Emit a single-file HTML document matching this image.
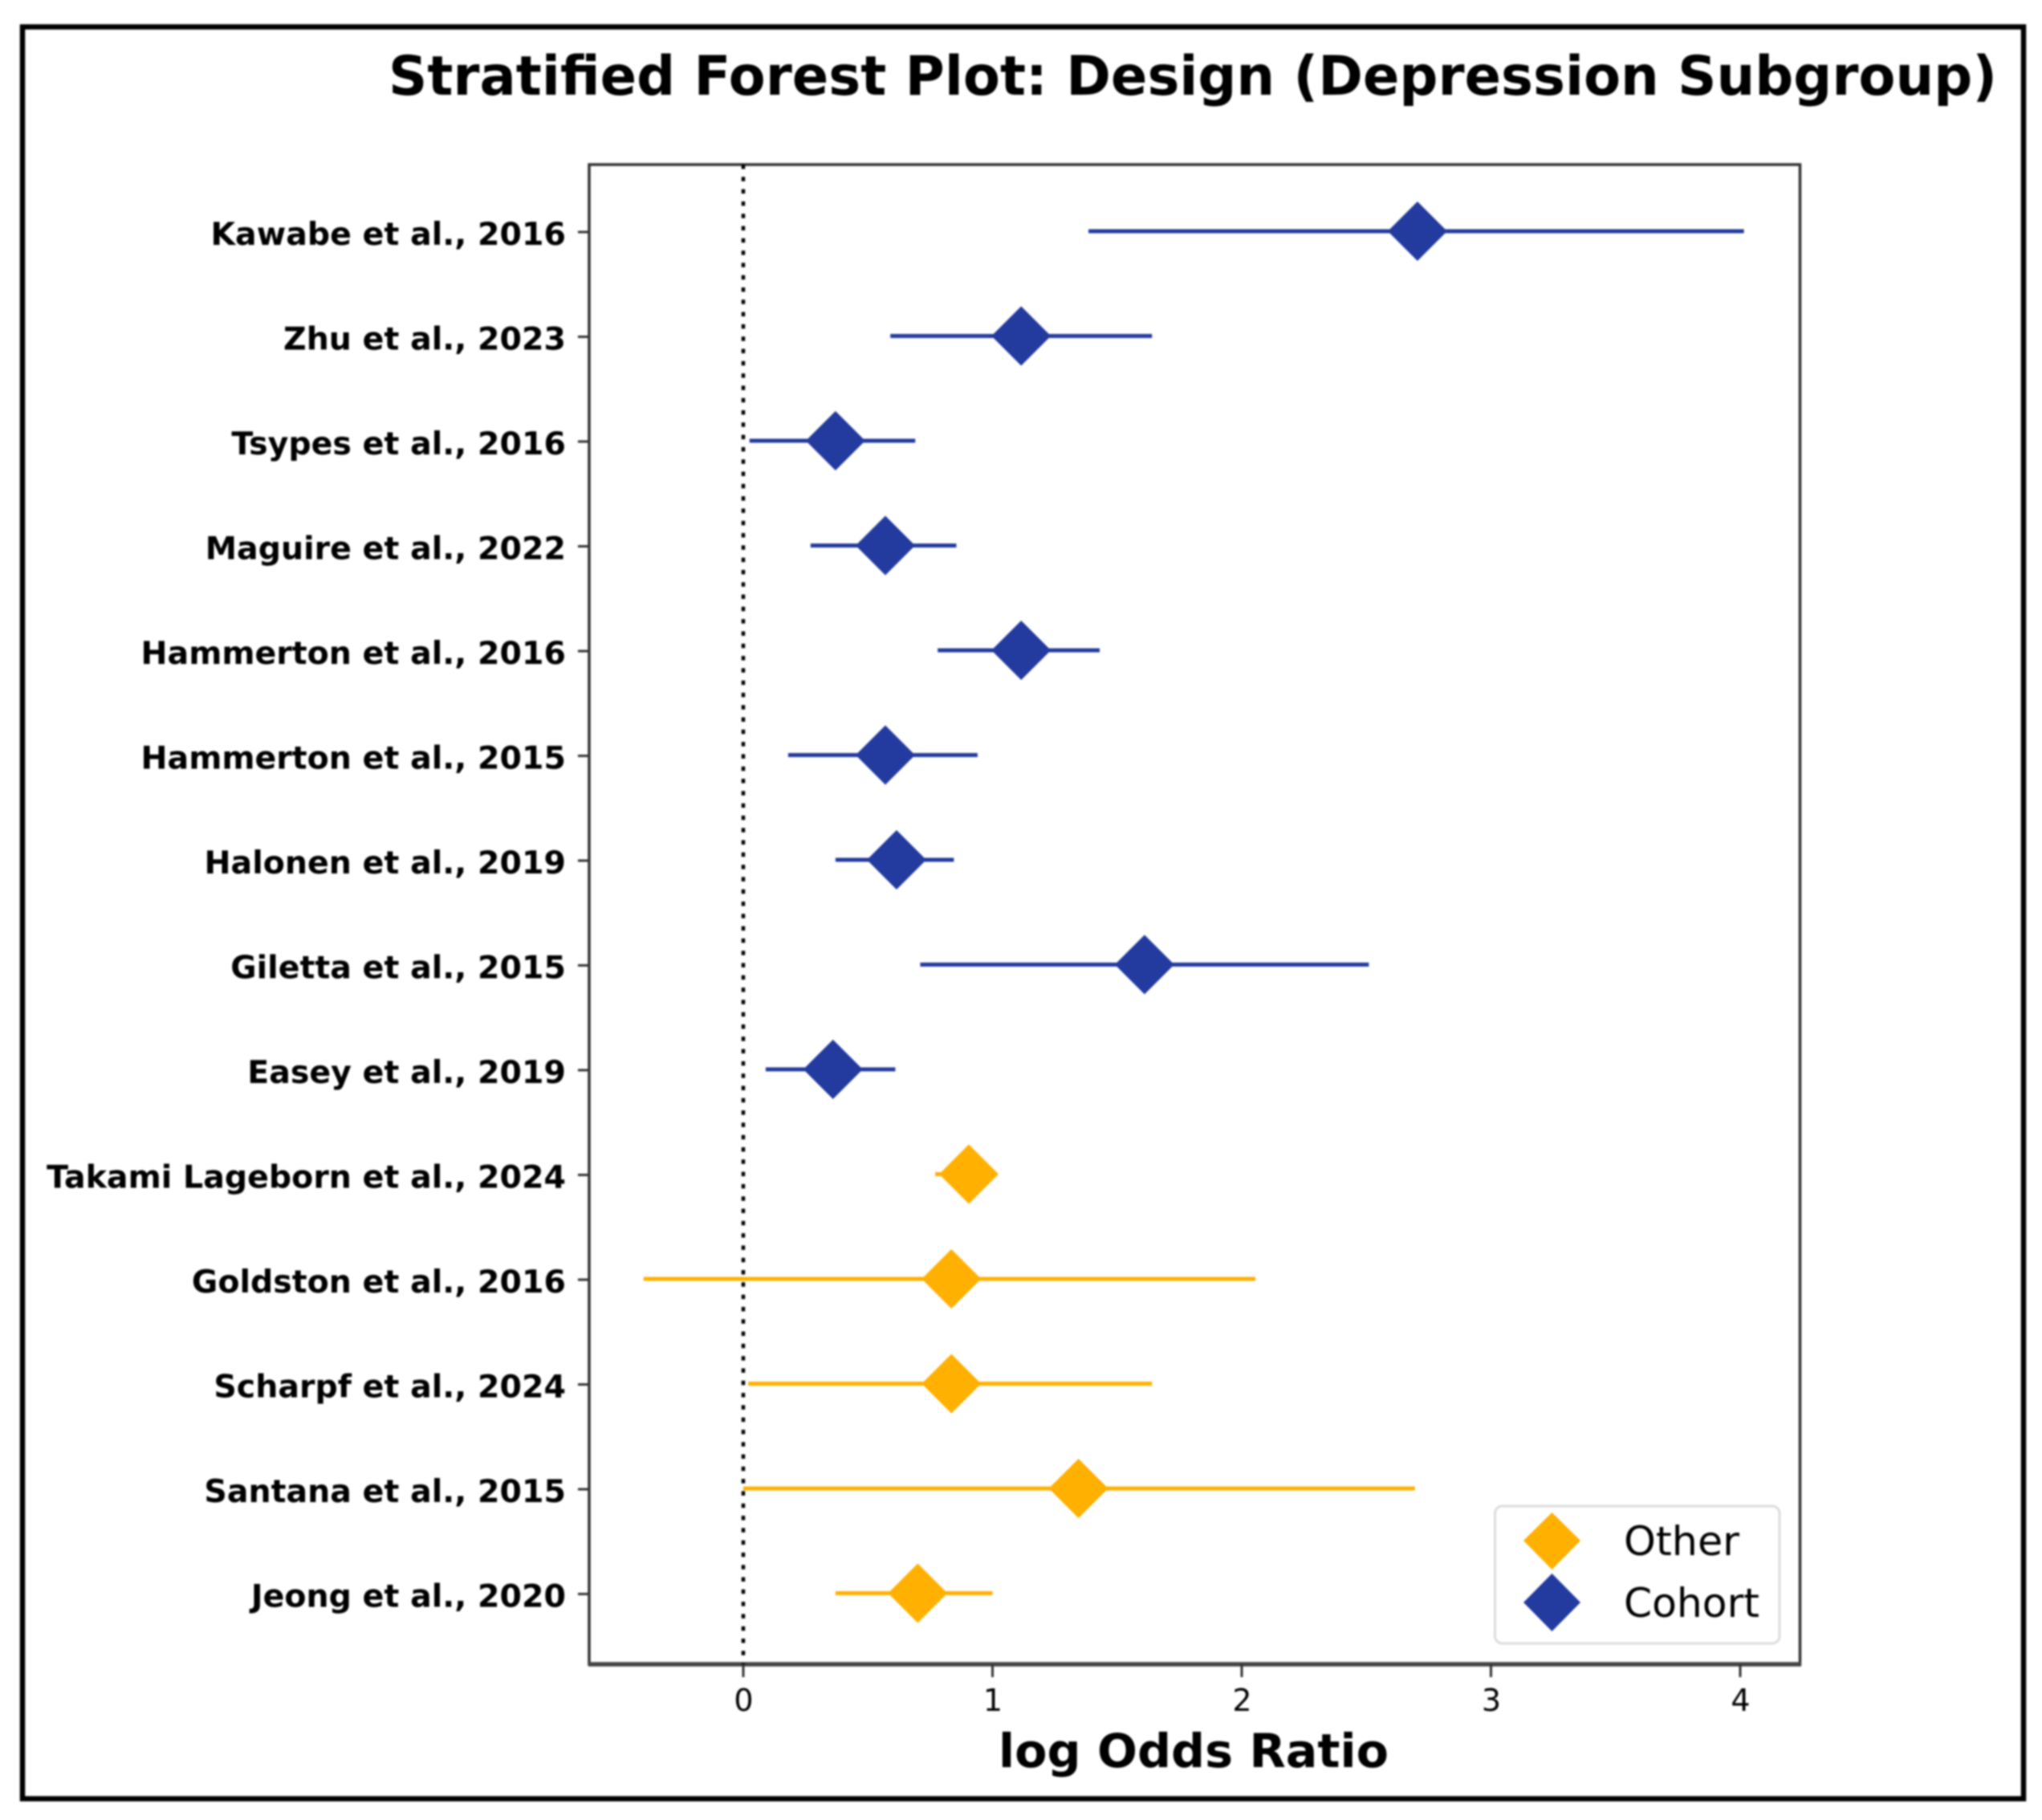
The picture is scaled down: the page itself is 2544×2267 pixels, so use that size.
<!DOCTYPE html>
<html lang="en">
<head>
<meta charset="utf-8">
<title>Stratified Forest Plot: Design (Depression Subgroup)</title>
<style>
html,body{margin:0;padding:0;background:#fff;width:2544px;height:2267px;overflow:hidden}
svg{display:block;filter:blur(1.1px)}
text{font-family:"DejaVu Sans","Liberation Sans",sans-serif;fill:#000}
</style>
</head>
<body>
<svg id="chart" xmlns="http://www.w3.org/2000/svg" width="2544" height="2267" viewBox="0 0 2544 2267">
  <rect x="0" y="0" width="2544" height="2267" fill="#fff"/>
  <rect x="28" y="33.500" width="2493" height="2207" fill="none" stroke="#000" stroke-width="6.500"/>
  <text x="484" y="118" font-size="68" font-weight="700" textLength="2004" lengthAdjust="spacingAndGlyphs">Stratified Forest Plot: Design (Depression Subgroup)</text>
  <rect x="734" y="205" width="1508.500" height="1868" fill="#fff" stroke="#333" stroke-width="3.500"/>
  <line x1="733" x2="2244" y1="2073" y2="2073" stroke="#444" stroke-width="5.500"/>
  <g id="x-ticks"></g>
  <g id="y-ticks"></g>
  <line id="null-line" y1="205" y2="2073" stroke="#000" stroke-width="4.500" stroke-dasharray="5.500 9.800"/>
  <g id="series"></g>
  <text x="1244" y="2201" font-size="58" font-weight="700" textLength="486" lengthAdjust="spacingAndGlyphs">log Odds Ratio</text>
  <g>
    <rect x="1862.500" y="1876" width="354.500" height="171" rx="9" fill="#fff" stroke="#dcdcdc" stroke-width="3"/>
    <polygon points="1933.500,1884 1969,1919 1933.500,1955 1898,1919" fill="#FFB000"/>
    <text x="2023" y="1937" font-size="50" fill="#111" textLength="144" lengthAdjust="spacingAndGlyphs">Other</text>
    <polygon points="1933.500,1960 1969,1996 1933.500,2032 1898,1996" fill="#233A9E"/>
    <text x="2023" y="2014" font-size="50" fill="#111" textLength="169" lengthAdjust="spacingAndGlyphs">Cohort</text>
  </g>
</svg>
<script>
const studyLabels = ["Kawabe et al., 2016","Zhu et al., 2023","Tsypes et al., 2016","Maguire et al., 2022","Hammerton et al., 2016","Hammerton et al., 2015","Halonen et al., 2019","Giletta et al., 2015","Easey et al., 2019","Takami Lageborn et al., 2024","Goldston et al., 2016","Scharpf et al., 2024","Santana et al., 2015","Jeong et al., 2020"];
const logOdds = [2.705,1.115,0.37,0.57,1.115,0.57,0.615,1.61,0.36,0.905,0.835,0.835,1.345,0.70];
const ciLower = [1.385,0.59,0.025,0.27,0.78,0.18,0.37,0.71,0.09,0.77,-0.40,0.02,0.00,0.37];
const ciUpper = [4.015,1.64,0.69,0.855,1.43,0.94,0.845,2.51,0.61,1.01,2.055,1.64,2.695,1.00];
const designGroups = ["Cohort","Cohort","Cohort","Cohort","Cohort","Cohort","Cohort","Cohort","Cohort","Other","Other","Other","Other","Other"];
const xTickValues = [0,1,2,3,4];

const NS = 'http://www.w3.org/2000/svg';
const groupColors = {Cohort:'#233A9E', Other:'#FFB000'};
function xScale(v){ return 926 + v * 310.5; }
function yScale(i){ return 288 + i * 130.5; }
function slug(s){ return s.toLowerCase().replace(/[^a-z0-9]+/g,'-').replace(/-$/,''); }
function make(tag, attrs, parent){
  const el = document.createElementNS(NS, tag);
  for (const k in attrs) el.setAttribute(k, attrs[k]);
  parent.appendChild(el);
  return el;
}

const nullLine = document.getElementById('null-line');
nullLine.setAttribute('x1', xScale(0));
nullLine.setAttribute('x2', xScale(0));

const xTicks = document.getElementById('x-ticks');
xTickValues.forEach(function(v){
  const tick = make('line', {x1:xScale(v), x2:xScale(v), y1:2073, y2:2089, stroke:'#333', 'stroke-width':3}, xTicks);
  
  
  const label = make('text', {x:xScale(v)+0.5, y:2131, 'font-size':38, 'text-anchor':'middle', fill:'#222'}, xTicks);
  
  
  label.textContent = String(v);
});

const yTicks = document.getElementById('y-ticks');
const series = document.getElementById('series');
studyLabels.forEach(function(name, i){
  const y = yScale(i);
  const tick = make('line', {x1:720, x2:734, y1:y+1, y2:y+1, stroke:'#333', 'stroke-width':3}, yTicks);
  
  
  const label = make('text', {x:705, y:y+17, 'font-size':39.5, 'font-weight':700, 'text-anchor':'end'}, yTicks);
  
  
  label.textContent = name;

  const color = groupColors[designGroups[i]];
  const ci = make('line', {x1:xScale(ciLower[i]), x2:xScale(ciUpper[i]), y1:y, y2:y, stroke:color, 'stroke-width':5}, series);
  
  
  const cx = xScale(logOdds[i]);
  const marker = make('polygon', {points:(cx)+','+(y-37)+' '+(cx+37)+','+y+' '+(cx)+','+(y+37)+' '+(cx-37)+','+y, fill:color}, series);
  
  
});
</script>
</body>
</html>
